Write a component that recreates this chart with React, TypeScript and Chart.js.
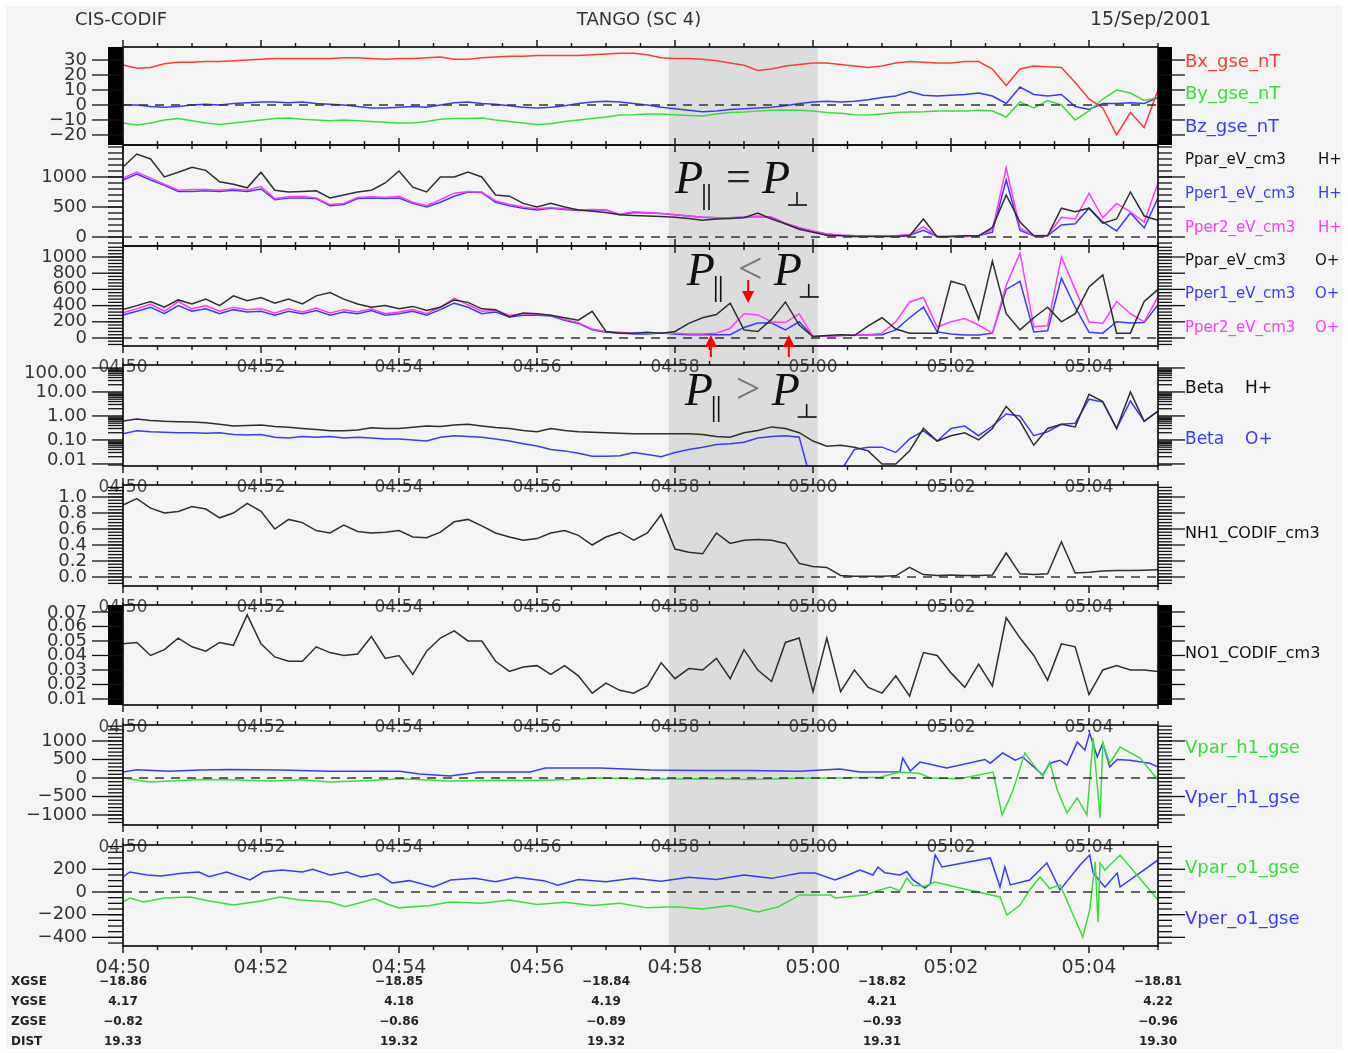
import React, { useEffect, useRef } from 'react';
import { Chart, registerables } from 'chart.js';
Chart.register(...registerables);

const W = 1348;
const H = 1053;

// ---- time grid: minutes after 04:50 ----
const T = [0,0.2,0.4,0.6,0.8,1,1.2,1.4,1.6,1.8,2,2.2,2.4,2.6,2.8,3,3.2,3.4,3.6,3.8,4,4.2,4.4,4.6,4.8,5,5.2,5.4,5.6,5.8,6,6.2,6.4,6.6,6.8,7,7.2,7.4,7.6,7.8,8,8.2,8.4,8.6,8.8,9,9.2,9.4,9.6,9.8,10,10.2,10.4,10.6,10.8,11,11.2,11.4,11.6,11.8,12,12.2,12.4,12.6,12.8,13,13.2,13.4,13.6,13.8,14,14.2,14.4,14.6,14.8,15];

// ---- panel 1: magnetic field (nT) ----
const bxGse = [26.7,24.5,25,27.5,28.5,28.5,29,29,29.5,30, 30.5,31,31,31,31,31,31.5,31.5,31,30.5, 31,31,31.5,32,30.5,30.5,31.5,32,32.5,32.5, 33,33,33,33,33.5,34,34.5,34.5,33.5,31.5, 31,31,30.5,29.5,28,26.5,23,24,26,27, 28,28,27,26,25,26,28,29,28.5,28, 28,29,29,24,13,24,26,25.5,25,15, 4,-2,-20,-5,-15,10];
const byGse = [-12,-13.3,-12,-10,-9,-10.5,-12,-13,-12,-11, -10,-9,-8.7,-9.5,-10,-10.5,-10,-10.5,-11,-11.5, -12,-12,-11,-9.5,-9,-9,-8.7,-10,-11,-12, -13,-12.5,-11,-10,-9,-8,-6.7,-6.5,-6,-6, -6.5,-7,-7.3,-6,-5,-4.7,-4,-3.5,-3.3,-3.5, -4,-5,-5.5,-6.5,-6.7,-6,-5,-4.7,-4.5,-4, -4,-4,-3.5,-4,-8,2,-2,3,0,-10, -4,4,10,8,3,5];
const bzGse = [0,0,-1,-1.5,-1,0,0.5,0,1,1.5, 2,2,1.5,2,1,0.5,0,-1,-2,-2, -1.5,-1,-1.5,0,1.5,2,1,0.5,-0.5,-1.5, -2,-1.5,-0.5,1,2,2.5,2,1,0,-1.5, -2.5,-3.5,-4.5,-4,-3,-2.5,-2,-1.5,-0.5,1, 2,2.5,2,2.5,3.5,5,6,9,6.5,6, 6.5,7,8,6,1,12,7,6,7,-1, -3,1,1,1.5,1,5];

// ---- panel 2: H+ pressures (eV/cm3) ----
const pparH = [1167,1383,1300,1000,1080,1160,1110,920,880,820, 1080,780,750,760,770,650,700,750,780,900, 1100,830,750,1000,1000,1083,1000,700,680,560, 500,560,500,450,430,410,370,360,350,340, 330,310,280,300,310,320,400,300,220,130, 80,30,20,10,10,10,10,20,300,0, 10,20,20,160,700,250,20,20,480,420, 480,230,300,750,350,280];
const pper1H = [950,1050,950,860,760,760,770,760,780,760, 800,620,650,650,640,520,540,640,650,640, 650,560,500,580,680,750,740,580,520,480, 450,480,460,440,450,450,370,410,400,390, 370,350,330,320,320,330,340,330,220,150, 90,50,30,20,20,20,20,30,110,10, 10,10,20,80,950,110,20,20,200,220, 480,250,100,400,150,650];
const pper2H = [980,1080,980,880,780,790,790,780,800,780, 840,640,670,680,650,540,560,660,670,660, 680,580,520,620,730,760,750,600,540,500, 470,490,470,450,460,450,380,420,410,390, 370,350,330,320,320,330,345,335,230,160, 100,50,30,20,20,20,20,40,170,10, 10,10,20,120,1150,150,20,30,330,300, 730,320,560,420,250,900];

// ---- panel 3: O+ pressures (eV/cm3) ----
const pparO = [350,400,450,380,470,420,480,400,520,460, 500,430,480,420,520,560,480,420,380,400, 360,390,340,380,470,440,360,350,260,310, 300,280,250,220,330,80,60,60,70,60, 80,180,250,290,430,100,80,230,445,160, 15,30,40,30,150,250,110,60,60,60, 700,650,230,950,300,100,250,380,200,300, 630,780,60,60,450,600];
const pper1O = [285,330,380,300,400,330,360,300,350,320, 330,280,330,300,340,280,320,300,340,280, 300,330,280,350,430,380,300,320,260,280, 280,270,220,180,100,70,60,50,50,60, 50,40,40,40,40,130,185,185,100,200, 20,20,30,37,37,40,100,250,380,75, 50,37,37,60,600,700,75,90,740,380, 70,60,200,185,190,410];
const pper2O = [310,360,420,330,450,360,400,330,380,350, 360,310,360,320,370,310,350,320,360,300, 320,350,300,380,490,410,330,340,280,300, 290,280,230,190,110,80,70,60,60,60, 60,50,50,60,120,300,285,200,190,300, 20,20,30,37,40,60,200,445,500,135, 200,240,160,60,650,1050,140,150,1000,600, 200,180,450,300,200,510];

// ---- panel 4: plasma beta ----
const betaH = [0.62,0.75,0.65,0.6,0.58,0.56,0.52,0.45,0.38,0.4, 0.42,0.36,0.34,0.3,0.27,0.24,0.24,0.26,0.32,0.3, 0.3,0.34,0.38,0.36,0.42,0.45,0.38,0.33,0.3,0.25, 0.22,0.3,0.25,0.22,0.21,0.2,0.19,0.18,0.18,0.18, 0.18,0.18,0.17,0.14,0.13,0.2,0.25,0.35,0.3,0.2, 0.09,0.055,0.06,0.05,0.035,0.01,0.01,0.035,0.3,0.09, 0.15,0.2,0.1,0.3,2.5,0.6,0.06,0.3,0.45,0.35, 8,4,0.3,10,0.6,1.6];
const betaO: (number | null)[] = [0.18,0.24,0.22,0.21,0.2,0.2,0.19,0.2,0.17,0.16, 0.17,0.13,0.12,0.14,0.13,0.14,0.12,0.13,0.12,0.11, 0.11,0.1,0.09,0.13,0.15,0.14,0.13,0.11,0.09,0.07, 0.056,0.04,0.035,0.028,0.021,0.021,0.022,0.03,0.025,0.02, 0.03,0.04,0.05,0.065,0.07,0.08,0.12,0.14,0.15,0.13, 0.001,null,0.005,0.04,0.05,0.05,0.03,0.11,0.24,0.09, 0.3,0.38,0.15,0.38,1.2,1,0.15,0.22,0.45,0.5, 5,3.8,0.3,4.2,0.6,1.6];

// ---- panel 5/6: densities (cm-3) ----
const nh1 = [0.9,0.98,0.86,0.8,0.82,0.88,0.85,0.74,0.8,0.92, 0.82,0.6,0.72,0.68,0.58,0.55,0.65,0.57,0.55,0.56, 0.58,0.5,0.49,0.56,0.69,0.72,0.64,0.55,0.5,0.46, 0.48,0.55,0.58,0.52,0.4,0.5,0.56,0.46,0.55,0.78, 0.35,0.31,0.29,0.55,0.42,0.46,0.47,0.46,0.42,0.17, 0.13,0.12,0.02,0.01,0.01,0.01,0.015,0.12,0.03,0.02, 0.025,0.02,0.02,0.025,0.3,0.04,0.03,0.04,0.44,0.05, 0.06,0.075,0.08,0.08,0.085,0.09];
const no1 = [0.048,0.049,0.040,0.044,0.052,0.046,0.043,0.049,0.047,0.068, 0.048,0.039,0.036,0.036,0.046,0.042,0.040,0.041,0.053,0.038, 0.040,0.027,0.043,0.052,0.057,0.050,0.050,0.036,0.029,0.032, 0.033,0.027,0.033,0.026,0.014,0.021,0.016,0.014,0.019,0.035, 0.024,0.031,0.030,0.038,0.024,0.044,0.030,0.022,0.049,0.052, 0.015,0.052,0.015,0.030,0.018,0.014,0.026,0.012,0.042,0.040, 0.028,0.018,0.034,0.019,0.066,0.052,0.040,0.023,0.048,0.046, 0.013,0.030,0.033,0.030,0.030,0.029];

// ---- panel 7/8: velocities (km/s), [minute, value] ----
const vparH1 = [[0,0],[0.39,-108],[0.68,-80],[1.12,-40],[1.55,-50],[2.13,-80],[2.57,-50],[3.0,-110],[3.58,-70],[4.01,-20],[4.74,-80],[5.46,-60],[5.9,-70],[6.48,-40],[6.91,0],[7.64,-30],[8.36,-20],[9.09,-40],[9.81,-10],[10.39,0],[10.97,20],[11.26,160],[11.55,120],[11.7,0],[12.13,-20],[12.61,160],[12.74,-1000],[12.9,-324],[13.07,675],[13.22,300],[13.33,50],[13.43,430],[13.54,-324],[13.68,-945],[13.83,-540],[13.97,-1000],[14.06,1080],[14.16,-1080],[14.2,945],[14.3,400],[14.45,837],[14.74,540],[15,-54]];
const vperH1 = [[0,160],[0.2,220],[0.68,180],[1.12,216],[1.55,230],[2.28,216],[3.0,180],[4.01,180],[4.3,108],[4.74,54],[5.17,160],[5.9,160],[6.12,270],[6.91,270],[7.64,216],[8.36,200],[9.09,200],[9.81,180],[10.39,243],[10.68,160],[11.26,170],[11.3,540],[11.41,190],[11.55,430],[11.94,270],[12.49,500],[12.57,400],[12.75,675],[12.93,480],[13.04,567],[13.14,400],[13.33,80],[13.43,400],[13.58,480],[13.68,350],[13.83,970],[13.94,756],[14.01,1215],[14.12,567],[14.2,945],[14.3,300],[14.41,500],[14.59,480],[14.88,400],[15,300]];
const vparO1 = [[0,-88],[0.1,-53],[0.3,-88],[0.6,-53],[0.97,-44],[1.25,-80],[1.6,-115],[2.0,-80],[2.28,-44],[2.57,-70],[3.0,-88],[3.22,-130],[3.65,-60],[3.85,-110],[4.0,-140],[4.45,-120],[4.74,-88],[5.2,-100],[5.6,-70],[6.0,-110],[6.4,-90],[6.8,-120],[7.2,-100],[7.6,-140],[8.0,-130],[8.4,-150],[8.8,-120],[9.2,-176],[9.5,-130],[9.81,-26],[10.25,-26],[10.32,-53],[10.75,-26],[10.97,18],[11.12,44],[11.26,10],[11.36,123],[11.45,60],[11.62,50],[11.77,88],[12.13,35],[12.71,-44],[12.81,-203],[13.0,-115],[13.14,18],[13.29,132],[13.43,30],[13.58,62],[13.91,-396],[14.01,-158],[14.09,264],[14.13,-264],[14.16,256],[14.23,194],[14.45,326],[15,-70]];
const vperO1 = [[0,132],[0.1,176],[0.35,150],[0.55,140],[0.85,165],[1.1,176],[1.25,135],[1.5,176],[1.84,106],[2.03,176],[2.3,194],[2.6,176],[2.75,200],[3.0,150],[3.25,176],[3.45,132],[3.7,160],[3.9,80],[4.15,100],[4.5,44],[4.75,106],[5.1,120],[5.4,90],[5.7,130],[6.1,100],[6.3,60],[6.6,110],[7.0,90],[7.4,120],[7.8,95],[8.2,130],[8.6,110],[9.0,150],[9.4,120],[9.81,167],[10.03,167],[10.32,106],[10.51,150],[10.68,194],[10.87,150],[10.94,220],[11.04,170],[11.26,150],[11.36,180],[11.45,106],[11.62,35],[11.7,70],[11.77,326],[11.87,220],[12.57,300],[12.71,44],[12.78,220],[12.86,62],[13.14,106],[13.39,256],[13.58,18],[13.87,238],[14.01,326],[14.06,167],[14.23,44],[14.41,167],[14.45,44],[15,282]];

// ---- axis / annotation content ----
const X_TICKS = [0, 2, 4, 6, 8, 10, 12, 14];
const X_LABELS = ['04:50', '04:52', '04:54', '04:56', '04:58', '05:00', '05:02', '05:04'];
const SHADE = [7.91, 10.07];
const ORBIT_T = [0, 4, 7, 11, 15];
const ORBIT_NAMES = ['XGSE', 'YGSE', 'ZGSE', 'DIST'];
const XGSE = ['−18.86', '−18.85', '−18.84', '−18.82', '−18.81'];
const YGSE = ['4.17', '4.18', '4.19', '4.21', '4.22'];
const ZGSE = ['−0.82', '−0.86', '−0.89', '−0.93', '−0.96'];
const DIST = ['19.33', '19.32', '19.32', '19.31', '19.30'];

const RED = '#ff3a3a';
const GREEN = '#3ade3a';
const BLUE = '#3a3aff';
const MAG = '#ff3aff';
const BLK = '#2e2e2e';
const FONT = '"DejaVu Sans", sans-serif';

type Pt = { x: number; y: number | null };
const grid = (vals: (number | null)[]): Pt[] => vals.map((y, i) => ({ x: T[i], y }));
const pairs = (p: number[][]): Pt[] => p.map(([x, y]) => ({ x, y }));

type Panel = {
  top: number; bottom: number;
  log?: boolean; min: number; max: number;
  majors: number[]; majorLabels: string[];
  minor?: number; logMinor?: boolean; bar?: boolean; zero?: number;
  series: { data: Pt[]; color: string }[];
  labels: { text: string; suffix?: string; sx?: number; color: string }[];
  labelFont: number;
  topLabels?: boolean; bottomLabels?: boolean; header?: boolean; orbit?: boolean; shade?: boolean;
  rels?: { t: number; v: number; rel: string; relColor: string }[];
  arrows?: { t: number; from: number; to: number }[];
};

const PANELS: Panel[] = [
  { top: 47, bottom: 145, min: -26.7, max: 38.7, majors: [30, 20, 10, 0, -10, -20], majorLabels: ['30', '20', '10', '0', '−10', '−20'], bar: true, zero: 0,
    series: [{ data: grid(bxGse), color: RED }, { data: grid(byGse), color: GREEN }, { data: grid(bzGse), color: BLUE }],
    labels: [{ text: 'Bx_gse_nT', color: RED }, { text: 'By_gse_nT', color: GREEN }, { text: 'Bz_gse_nT', color: BLUE }], labelFont: 18, header: true, shade: true },
  { top: 145, bottom: 246, min: -150, max: 1533, majors: [1000, 500, 0], majorLabels: ['1000', '500', '0'], minor: 100, zero: 0,
    series: [{ data: grid(pparH), color: BLK }, { data: grid(pper2H), color: MAG }, { data: grid(pper1H), color: BLUE }],
    labels: [{ text: 'Ppar_eV_cm3', suffix: 'H+', sx: 1318, color: '#111' }, { text: 'Pper1_eV_cm3', suffix: 'H+', sx: 1318, color: BLUE }, { text: 'Pper2_eV_cm3', suffix: 'H+', sx: 1318, color: MAG }], labelFont: 15,
    rels: [{ t: 8.0, v: 733, rel: '=', relColor: '#222' }] },
  { top: 246, bottom: 346, min: -99, max: 1136, majors: [1000, 800, 600, 400, 200, 0], majorLabels: ['1000', '800', '600', '400', '200', '0'], minor: 40, zero: 0,
    series: [{ data: grid(pparO), color: BLK }, { data: grid(pper2O), color: MAG }, { data: grid(pper1O), color: BLUE }],
    labels: [{ text: 'Ppar_eV_cm3', suffix: 'O+', sx: 1315, color: '#111' }, { text: 'Pper1_eV_cm3', suffix: 'O+', sx: 1315, color: BLUE }, { text: 'Pper2_eV_cm3', suffix: 'O+', sx: 1315, color: MAG }], labelFont: 15,
    rels: [{ t: 8.17, v: 655, rel: '<', relColor: '#777' }],
    arrows: [{ t: 9.06, from: 716, to: 432 }, { t: 8.52, from: -235, to: 37 }, { t: 9.65, from: -235, to: 37 }] },
  { top: 365, bottom: 466, log: true, min: 0.0082, max: 133, majors: [100, 10, 1, 0.1, 0.01], majorLabels: ['100.00', '10.00', '1.00', '0.10', '0.01'], logMinor: true,
    series: [{ data: grid(betaH), color: BLK }, { data: grid(betaO), color: BLUE }],
    labels: [{ text: 'Beta', suffix: 'H+', sx: 1245, color: '#111' }, { text: 'Beta', suffix: 'O+', sx: 1245, color: BLUE }], labelFont: 17, topLabels: true,
    rels: [{ t: 8.14, v: 2.86, rel: '>', relColor: '#777' }] },
  { top: 485, bottom: 586, min: -0.1125, max: 1.15, majors: [1, 0.8, 0.6, 0.4, 0.2, 0], majorLabels: ['1.0', '0.8', '0.6', '0.4', '0.2', '0.0'], minor: 0.04, zero: 0,
    series: [{ data: grid(nh1), color: BLK }],
    labels: [{ text: 'NH1_CODIF_cm3', color: '#111' }], labelFont: 16, topLabels: true },
  { top: 605, bottom: 705, min: 0.00586, max: 0.0748, majors: [0.07, 0.06, 0.05, 0.04, 0.03, 0.02, 0.01], majorLabels: ['0.07', '0.06', '0.05', '0.04', '0.03', '0.02', '0.01'], bar: true,
    series: [{ data: grid(no1), color: BLK }],
    labels: [{ text: 'NO1_CODIF_cm3', color: '#111' }], labelFont: 16, topLabels: true },
  { top: 725, bottom: 825, min: -1270, max: 1432, majors: [1000, 500, 0, -500, -1000], majorLabels: ['1000', '500', '0', '−500', '−1000'], minor: 100, zero: 0,
    series: [{ data: pairs(vparH1), color: GREEN }, { data: pairs(vperH1), color: BLUE }],
    labels: [{ text: 'Vpar_h1_gse', color: GREEN }, { text: 'Vper_h1_gse', color: BLUE }], labelFont: 18, topLabels: true },
  { top: 845, bottom: 946, min: -476, max: 414, majors: [200, 0, -200, -400], majorLabels: ['200', '0', '−200', '−400'], minor: 50, zero: 0,
    series: [{ data: pairs(vparO1), color: GREEN }, { data: pairs(vperO1), color: BLUE }],
    labels: [{ text: 'Vpar_o1_gse', color: GREEN }, { text: 'Vper_o1_gse', color: BLUE }], labelFont: 18, topLabels: true, bottomLabels: true, orbit: true },
];

function line(ctx: CanvasRenderingContext2D, x1: number, y1: number, x2: number, y2: number) {
  ctx.beginPath(); ctx.moveTo(x1, y1); ctx.lineTo(x2, y2); ctx.stroke();
}

function makeDecor(p: Panel, lastBottom: number) {
  return {
    id: 'decor',
    beforeDatasetsDraw(chart: any) {
      if (!p.shade) return;
      const ctx = chart.ctx; const xs = chart.scales.x;
      const a = xs.getPixelForValue(SHADE[0]); const b = xs.getPixelForValue(SHADE[1]);
      ctx.save(); ctx.fillStyle = '#dcdcdc'; ctx.fillRect(a, chart.chartArea.top, b - a, lastBottom - chart.chartArea.top); ctx.restore();
    },
    afterDraw(chart: any) {
      const ctx: CanvasRenderingContext2D = chart.ctx;
      const xs = chart.scales.x; const ys = chart.scales.y;
      const { left, right, top, bottom } = chart.chartArea;
      ctx.save();
      // dashed zero line
      if (p.zero !== undefined) {
        const y = ys.getPixelForValue(p.zero);
        ctx.strokeStyle = '#333'; ctx.lineWidth = 1.5; ctx.setLineDash([9, 7]);
        line(ctx, left, y, right, y); ctx.setLineDash([]);
      }
      // time labels on top edge
      if (p.topLabels) {
        ctx.font = '17px ' + FONT; ctx.fillStyle = '#4a4a4a'; ctx.textAlign = 'center'; ctx.textBaseline = 'middle';
        X_TICKS.forEach((t, i) => ctx.fillText(X_LABELS[i], xs.getPixelForValue(t), top + 3));
      }
      // x ticks
      ctx.strokeStyle = '#111'; ctx.lineWidth = 1.4;
      for (let i = 0; i <= 30; i++) {
        const t = i * 0.5; const x = xs.getPixelForValue(t);
        const len = i % 4 === 0 ? 7 : 4;
        line(ctx, x, top, x, top - len); line(ctx, x, bottom, x, bottom + len);
      }
      // y minor ticks
      ctx.lineWidth = 1.3;
      if (p.bar) {
        ctx.fillStyle = '#000';
        ctx.fillRect(left - 15, top, 15, bottom - top); ctx.fillRect(right, top, 14, bottom - top);
      }
      if (p.minor) {
        const st = Math.ceil(p.min / p.minor);
        for (let k = st; k * p.minor <= p.max; k++) {
          const y = ys.getPixelForValue(k * p.minor);
          line(ctx, left - 15, y, left, y); line(ctx, right, y, right + 14, y);
        }
      }
      if (p.logMinor) {
        for (let d = -3; d <= 2; d++) for (let m = 2; m <= 9; m++) {
          const v = m * Math.pow(10, d);
          if (v < p.min || v > p.max) continue;
          const y = ys.getPixelForValue(v);
          line(ctx, left - 15, y, left, y); line(ctx, right, y, right + 14, y);
        }
      }
      // y major ticks
      p.majors.forEach((v) => {
        const y = ys.getPixelForValue(v);
        line(ctx, left - 31, y, left, y); line(ctx, right, y, right + 27, y);
      });
      // frame
      ctx.lineWidth = 1.7; ctx.strokeStyle = '#111';
      ctx.strokeRect(left, top, right - left, bottom - top);
      // y labels
      ctx.font = '18px ' + FONT; ctx.fillStyle = '#333'; ctx.textAlign = 'right'; ctx.textBaseline = 'middle';
      p.majors.forEach((v, i) => {
        let y = ys.getPixelForValue(v);
        y = Math.max(top + 8, Math.min(bottom - 6, y));
        ctx.fillText(p.majorLabels[i], 87, y);
      });
      // right labels
      ctx.textAlign = 'left'; ctx.font = p.labelFont + 'px ' + FONT;
      const n = p.labels.length; const h = bottom - top;
      p.labels.forEach((lb, i) => {
        const y = top + (i + 0.5) * h / n - 1.5;
        ctx.fillStyle = lb.color; ctx.fillText(lb.text, 1185, y);
        if (lb.suffix) ctx.fillText(lb.suffix, lb.sx || 1318, y);
      });
      // bottom time labels
      if (p.bottomLabels) {
        ctx.font = '19px ' + FONT; ctx.fillStyle = '#333'; ctx.textAlign = 'center';
        X_TICKS.forEach((t, i) => ctx.fillText(X_LABELS[i], xs.getPixelForValue(t), bottom + 22));
      }
      // orbit table
      if (p.orbit) {
        const rows = [XGSE, YGSE, ZGSE, DIST];
        ctx.font = 'bold 12px ' + FONT; ctx.fillStyle = '#222';
        ORBIT_NAMES.forEach((nm, r) => {
          const y = 982 + r * 20;
          ctx.textAlign = 'left'; ctx.fillText(nm, 11, y);
          ctx.textAlign = 'center';
          ORBIT_T.forEach((t, c) => ctx.fillText(rows[r][c], xs.getPixelForValue(t), y));
        });
      }
      // header
      if (p.header) {
        ctx.font = '18px ' + FONT; ctx.fillStyle = '#333'; ctx.textBaseline = 'middle';
        ctx.textAlign = 'left'; ctx.fillText('CIS-CODIF', 75, 20);
        ctx.textAlign = 'center'; ctx.fillText('TANGO (SC 4)', 639, 20);
        ctx.textAlign = 'left'; ctx.font = '19px ' + FONT; ctx.fillText('15/Sep/2001', 1090, 20);
      }
      // pressure-relation annotations
      (p.rels || []).forEach((r) => {
        const x0 = xs.getPixelForValue(r.t); const b = ys.getPixelForValue(r.v);
        ctx.textAlign = 'left'; ctx.textBaseline = 'alphabetic';
        ctx.fillStyle = '#111'; ctx.strokeStyle = '#111'; ctx.lineWidth = 1.6;
        ctx.font = 'italic 46px "Liberation Serif", serif';
        ctx.fillText('P', x0, b);
        line(ctx, x0 + 29, b - 9, x0 + 29, b + 17); line(ctx, x0 + 34, b - 9, x0 + 34, b + 17);
        ctx.font = '44px "Liberation Serif", serif'; ctx.fillStyle = r.relColor;
        ctx.fillText(r.rel, x0 + 51, b - 2);
        ctx.fillStyle = '#111'; ctx.font = 'italic 46px "Liberation Serif", serif';
        ctx.fillText('P', x0 + 87, b);
        line(ctx, x0 + 122, b - 1, x0 + 122, b + 12); line(ctx, x0 + 113, b + 12, x0 + 132, b + 12);
      });
      // red arrows
      (p.arrows || []).forEach((a) => {
        const x = xs.getPixelForValue(a.t); const y1 = ys.getPixelForValue(a.from); const y2 = ys.getPixelForValue(a.to);
        const dir = y2 > y1 ? 1 : -1;
        ctx.strokeStyle = '#ff0000'; ctx.fillStyle = '#ff0000'; ctx.lineWidth = 2;
        line(ctx, x, y1, x, y2 - dir * 10);
        ctx.beginPath(); ctx.moveTo(x, y2); ctx.lineTo(x - 6, y2 - dir * 12); ctx.lineTo(x + 6, y2 - dir * 12); ctx.closePath(); ctx.fill();
      });
      ctx.restore();
    },
  };
}

function buildConfig(p: Panel, lastBottom: number): any {
  return {
    type: 'line',
    data: {
      datasets: p.series.map((s) => ({
        data: s.data, borderColor: s.color, borderWidth: 1.5, pointRadius: 0, fill: false, tension: 0, spanGaps: false,
      })),
    },
    options: {
      animation: false, responsive: false, maintainAspectRatio: false, devicePixelRatio: 1, events: [],
      layout: { padding: { left: 123, right: W - 1158, top: p.top, bottom: H - p.bottom } },
      plugins: { legend: { display: false }, tooltip: { enabled: false }, title: { display: false } },
      scales: {
        x: { type: 'linear', min: 0, max: 15, display: false },
        y: { type: p.log ? 'logarithmic' : 'linear', min: p.min, max: p.max, display: false },
      },
    },
    plugins: [makeDecor(p, lastBottom)],
  };
}

export default function App() {
  const refs = useRef<(HTMLCanvasElement | null)[]>([]);
  useEffect(() => {
    const lastBottom = PANELS[PANELS.length - 1].bottom;
    const charts = PANELS.map((p, i) => new Chart(refs.current[i] as HTMLCanvasElement, buildConfig(p, lastBottom)));
    return () => charts.forEach((c) => c.destroy());
  }, []);
  return (
    <div style={{ position: 'absolute', left: 0, top: 0, width: W, height: H, background: '#ffffff', overflow: 'hidden' }}>
      <div style={{ position: 'absolute', left: 6, top: 6, width: 1336, height: 1043, background: '#f4f4f4' }} />
      {PANELS.map((_, i) => (
        <canvas key={i} ref={(el) => { refs.current[i] = el; }} width={W} height={H}
          style={{ position: 'absolute', left: 0, top: 0, width: W, height: H }} />
      ))}
    </div>
  );
}
